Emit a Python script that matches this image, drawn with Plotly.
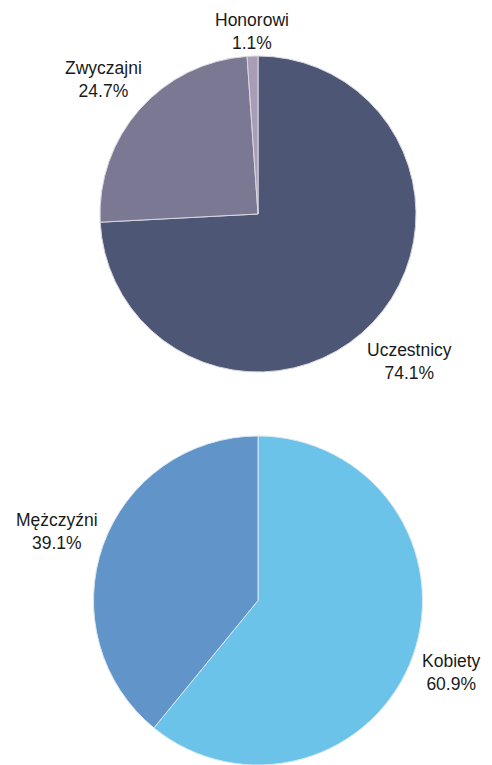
import math
import plotly.graph_objects as go

member_labels = ["Uczestnicy", "Zwyczajni", "Honorowi"]
member_values = [74.1, 24.7, 1.1]
member_colors = ["#4d5675", "#7b7893", "#a99cb6"]

gender_labels = ["Kobiety", "Mężczyźni"]
gender_values = [60.9, 39.1]
gender_colors = ["#6cc3e9", "#6194c8"]

W, H = 492, 765
FS = 17.5
font = dict(family="Liberation Sans, Arial, sans-serif", size=FS, color="#1a1a1a")

# pie placement (pixels): centre x, centre y, radius
charts = [
    (member_labels, member_values, member_colors, "#d8d8e0", 258, 214, 158),
    (gender_labels, gender_values, gender_colors, "#d8e8f0", 258, 600.5, 164.5),
]

fig = go.Figure()
annotations = []
for labels, values, colors, edge, cx, cy, r in charts:
    fig.add_trace(go.Pie(
        labels=labels, values=values,
        marker=dict(colors=colors, line=dict(color=edge, width=1)),
        sort=False, direction="clockwise", rotation=0,
        textinfo="none", showlegend=False, hoverinfo="label+value",
        domain=dict(x=[(cx - r) / W, (cx + r) / W],
                    y=[1 - (cy + r) / H, 1 - (cy - r) / H]),
    ))
    total = sum(values)
    cum = 0.0
    for lab, val in zip(labels, values):
        mid = (cum + val / 2) / total * 2 * math.pi
        cum += val
        dx, dy = math.sin(mid), -math.cos(mid)  # screen direction (y down)
        w = 0.51 * FS * max(len(lab), 5)
        h = 44
        dist = r + 4 + abs(dx) * w / 2 + abs(dy) * h / 2
        px, py = cx + dx * dist, cy + dy * dist + 3
        annotations.append(dict(
            x=px / W, y=1 - py / H, xref="paper", yref="paper",
            text=f"{lab}<br>{val:.1f}%", showarrow=False,
            xanchor="center", yanchor="middle", align="center",
            font=font,
        ))

fig.update_layout(
    width=W, height=H,
    margin=dict(l=0, r=0, t=0, b=0),
    paper_bgcolor="white", plot_bgcolor="white",
    font=font, annotations=annotations,
)
fig.write_html(
    "out.html",
    config={"displayModeBar": False},
    post_script="document.body.style.margin='0';document.body.style.overflow='hidden';",
)
